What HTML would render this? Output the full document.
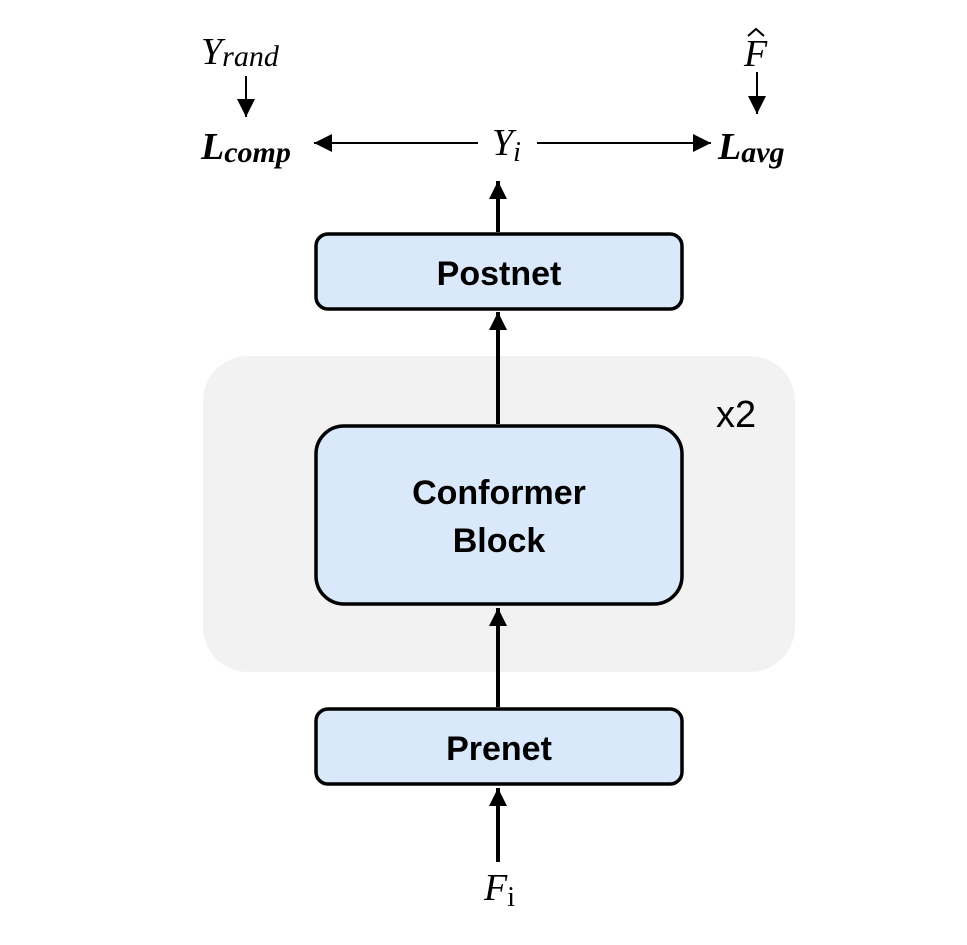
<!DOCTYPE html>
<html><head><style>body{margin:0;background:#fff}svg{display:block}</style></head><body>
<svg width="967" height="945" viewBox="0 0 967 945" xmlns="http://www.w3.org/2000/svg">
<defs>
<marker id="b" markerWidth="20" markerHeight="18" refX="18" refY="9" orient="auto" markerUnits="userSpaceOnUse"><path d="M0,0 L18,9 L0,18z" fill="#000"/></marker></defs>
<rect x="203" y="356" width="592" height="316" rx="45" fill="#f2f2f2"/>
<text x="716" y="427" font-family="Liberation Sans, sans-serif" font-size="38" fill="#000">x2</text>
<g fill="#dae8fc" stroke="#000" stroke-width="3.5">
<rect x="316" y="234" width="366" height="75" rx="12"/>
<rect x="316" y="426" width="366" height="178" rx="28"/>
<rect x="316" y="709" width="366" height="75" rx="12"/>
</g>
<g font-family="Liberation Sans, sans-serif" font-size="34" font-weight="bold" text-anchor="middle" fill="#000">
<text x="499" y="285">Postnet</text>
<text x="499" y="504">Conformer</text>
<text x="499" y="552">Block</text>
<text x="499" y="760">Prenet</text>
</g>
<g stroke="#000" stroke-width="4" fill="none">
<line x1="498" y1="862" x2="498" y2="788" marker-end="url(#b)"/>
<line x1="498" y1="707" x2="498" y2="608" marker-end="url(#b)"/>
<line x1="498" y1="424" x2="498" y2="312" marker-end="url(#b)"/>
<line x1="498" y1="232" x2="498" y2="181" marker-end="url(#b)"/>
</g>
<g stroke="#000" stroke-width="2" fill="none">
<line x1="478" y1="143" x2="314" y2="143" marker-end="url(#b)"/>
<line x1="537" y1="143" x2="711" y2="143" marker-end="url(#b)"/>
<line x1="246" y1="76" x2="246" y2="117" marker-end="url(#b)"/>
<line x1="757" y1="72" x2="757" y2="114" marker-end="url(#b)"/>
</g>
<g font-family="Liberation Serif, serif" font-style="italic" fill="#000">
<text x="201" y="64" font-size="38">Y<tspan font-size="30" dy="2">rand</tspan></text>
<text x="201" y="159" font-size="38" font-weight="bold">L<tspan font-size="30" dy="3">comp</tspan></text>
<text x="492" y="155" font-size="38">Y<tspan font-size="28" dy="6">i</tspan></text>
<text x="718" y="159" font-size="38" font-weight="bold">L<tspan font-size="30" dy="3">avg</tspan></text>
<text x="744" y="66" font-size="38">F</text>
<path d="M748,36 L756,29 L764,36" stroke="#000" stroke-width="2" fill="none"/>
<text x="484" y="900" font-size="38">F<tspan font-size="28" dy="6" font-style="normal">i</tspan></text>
</g>
</svg>
</body></html>
